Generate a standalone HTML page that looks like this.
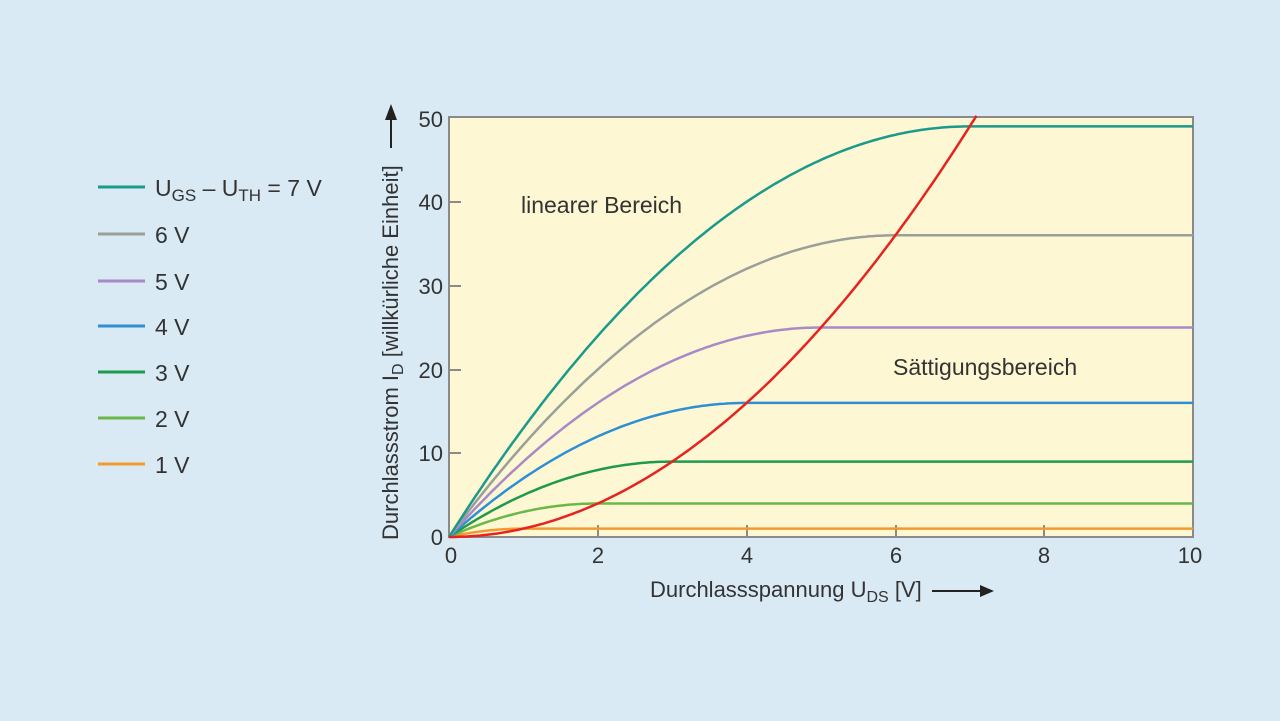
<!DOCTYPE html>
<html><head><meta charset="utf-8"><style>
html,body{margin:0;padding:0;background:#d9eaf4;width:1280px;height:721px;overflow:hidden}
svg{display:block}
text{font-family:"Liberation Sans Narrow","Liberation Sans",sans-serif;fill:#333}
</style></head><body>
<svg id="s" width="1280" height="721" viewBox="0 0 1280 721" xmlns="http://www.w3.org/2000/svg">
<rect x="0" y="0" width="1280" height="721" fill="#d9eaf4"/>
<rect x="449" y="117" width="744" height="420" fill="#fdf7d3" stroke="#8a8a8a" stroke-width="2"/>
<g stroke="#8a8a8a" stroke-width="2">
<line x1="449" y1="453" x2="461" y2="453"/><line x1="449" y1="370" x2="461" y2="370"/>
<line x1="449" y1="286" x2="461" y2="286"/><line x1="449" y1="202" x2="461" y2="202"/>
<line x1="598" y1="537" x2="598" y2="525"/><line x1="747" y1="537" x2="747" y2="525"/>
<line x1="896" y1="537" x2="896" y2="525"/><line x1="1044" y1="537" x2="1044" y2="525"/>
</g>
<g id="curves" fill="none" stroke-width="2.5"></g>
<g font-size="22" text-anchor="end">
<text x="443" y="545">0</text><text x="443" y="461">10</text><text x="443" y="378">20</text>
<text x="443" y="294">30</text><text x="443" y="210">40</text><text x="443" y="127">50</text>
</g>
<g font-size="22" text-anchor="middle">
<text x="451" y="563">0</text><text x="598" y="563">2</text><text x="747" y="563">4</text>
<text x="896" y="563">6</text><text x="1044" y="563">8</text><text x="1190" y="563">10</text>
</g>
<text x="650" y="597" font-size="22">Durchlassspannung U<tspan font-size="16" dy="5">DS</tspan><tspan dy="-5"> [V]</tspan></text>
<line x1="932" y1="591" x2="982" y2="591" stroke="#222" stroke-width="2"/><polygon points="994,591 980,585 980,597" fill="#222"/>
<text transform="translate(398,540) rotate(-90)" font-size="22">Durchlassstrom I<tspan font-size="16" dy="5">D</tspan><tspan dy="-5"> [willkürliche Einheit]</tspan></text>
<line x1="391" y1="148" x2="391" y2="118" stroke="#222" stroke-width="2"/><polygon points="391,104 385,120 397,120" fill="#222"/>
<text x="521" y="213" font-size="23">linearer Bereich</text>
<text x="893" y="375" font-size="23">Sättigungsbereich</text>
<g stroke-width="3">
<line x1="98" y1="187" x2="145" y2="187" stroke="#1a9a8a"/>
<line x1="98" y1="234" x2="145" y2="234" stroke="#9a9f9a"/>
<line x1="98" y1="281" x2="145" y2="281" stroke="#a98ac8"/>
<line x1="98" y1="326" x2="145" y2="326" stroke="#2f8fd4"/>
<line x1="98" y1="372" x2="145" y2="372" stroke="#1e9a4e"/>
<line x1="98" y1="418" x2="145" y2="418" stroke="#6ab84a"/>
<line x1="98" y1="464" x2="145" y2="464" stroke="#f39a2e"/>
</g>
<g font-size="23">
<text x="155" y="196">U<tspan font-size="17" dy="5">GS</tspan><tspan dy="-5"> – U</tspan><tspan font-size="17" dy="5">TH</tspan><tspan dy="-5"> = 7 V</tspan></text>
<text x="155" y="243">6 V</text><text x="155" y="290">5 V</text><text x="155" y="335">4 V</text>
<text x="155" y="381">3 V</text><text x="155" y="427">2 V</text><text x="155" y="473">1 V</text>
</g>
</svg>
<script>
var g=document.getElementById('curves');
function X(v){return 449+v*74.4}function Y(i){return 537-i*8.38}
var cols=['#f39a2e','#6ab84a','#1e9a4e','#2f8fd4','#a98ac8','#9a9f9a','#1a9a8a'];
for(var k=1;k<=7;k++){var d='';for(var j=0;j<=200;j++){var v=j*0.05;var i=v<k?(2*k*v-v*v):k*k;d+=(j?'L':'M')+X(v).toFixed(1)+','+Y(i).toFixed(1);}
var p=document.createElementNS('http://www.w3.org/2000/svg','path');p.setAttribute('d',d);p.setAttribute('stroke',cols[k-1]);g.appendChild(p);}
var d='';for(var j=0;j<=100;j++){var v=j*0.0709;d+=(j?'L':'M')+X(v).toFixed(1)+','+Y(v*v).toFixed(1);}
var p=document.createElementNS('http://www.w3.org/2000/svg','path');p.setAttribute('d',d);p.setAttribute('stroke','#e5231f');g.appendChild(p);
</script>
</body></html>
